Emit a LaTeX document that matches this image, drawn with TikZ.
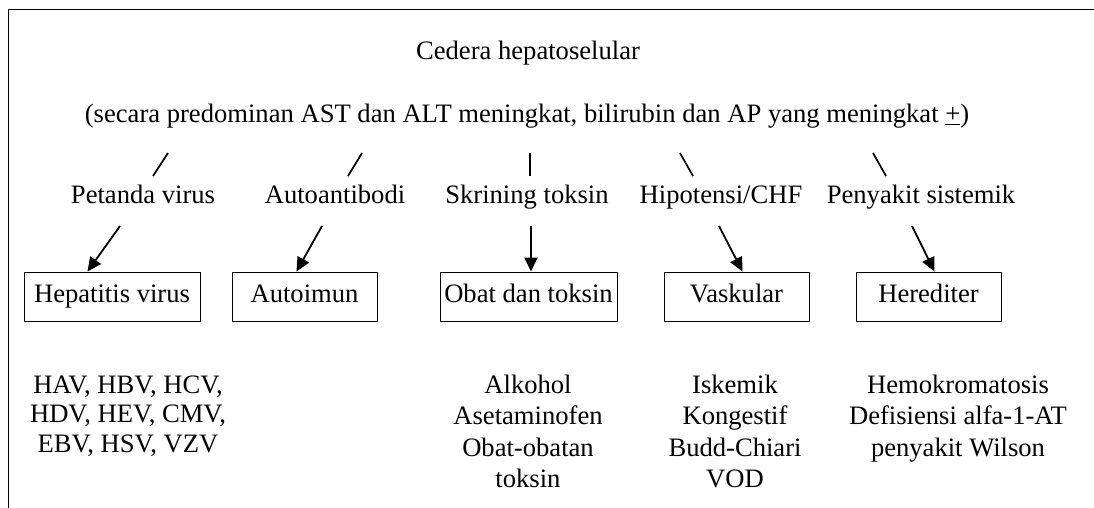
\documentclass[tikz,border=0pt]{standalone}
\usepackage{fontspec}
\setmainfont{Liberation Serif}
\usetikzlibrary{arrows.meta,calc}
\begin{document}
\begin{tikzpicture}[x=1pt,y=-1pt,
  txt/.style={inner sep=0pt,anchor=base,font=\fontsize{26.6}{31.5}\selectfont,align=center},
  boxnode/.style={draw,line width=1pt,inner sep=0pt,minimum height=49pt,
    text height=17pt,text depth=6pt,font=\fontsize{26.6}{31.5}\selectfont},
  arr/.style={line width=1.8pt,-{Triangle[length=14pt,width=13pt]}},
  tick/.style={line width=1.7pt},
  frame/.style={line width=1pt}]
\useasboundingbox (0,0) rectangle (1094,508);

% frame lines along the top and left
\draw[frame] (1094,9.5) -- (8.5,9.5) -- (8.5,508);

% heading
\node[txt] (title) at (528,60) {Cedera hepatoselular};
\node[txt] (sub) at (527,123) {(secara predominan AST dan ALT meningkat, bilirubin dan AP yang meningkat \underline{+})};

% tests
\node[txt] (pv) at (143,203) {Petanda virus};
\node[txt] (aa) at (335,203) {Autoantibodi};
\node[txt] (sk) at (527,203) {Skrining toksin};
\node[txt] (hc) at (721,203) {Hipotensi/CHF};
\node[txt] (ps) at (921,203) {Penyakit sistemik};

% short strokes under the heading
\coordinate (t1a) at (168,153); \coordinate (t1b) at (153,176);
\coordinate (t2a) at (362,153); \coordinate (t2b) at (348,176);
\coordinate (t3a) at (530,153); \coordinate (t3b) at (530,176);
\coordinate (t4a) at (680,153); \coordinate (t4b) at (693,176);
\coordinate (t5a) at (873,153); \coordinate (t5b) at (886,176);
\foreach \i in {1,...,5} \draw[tick] (t\i a) -- (t\i b);

% categories
\node[boxnode,minimum width=176pt] (hv) at (112,296.5) {Hepatitis virus};
\node[boxnode,minimum width=145pt] (ai) at (304.5,296.5) {Autoimun};
\node[boxnode,minimum width=177pt] (ot) at (528.5,296.5) {Obat dan toksin};
\node[boxnode,minimum width=145pt] (va) at (736.5,296.5) {Vaskular};
\node[boxnode,minimum width=145pt] (he) at (928.5,296.5) {Herediter};

% arrows from tests to categories
\coordinate (a1) at (120,226);
\coordinate (a2) at (322,226);
\coordinate (a3) at (531,226);
\coordinate (a4) at (719,226);
\coordinate (a5) at (912,226);
\draw[arr] (a1) -- ($(hv.north west)+(64,0)$);
\draw[arr] (a2) -- ($(ai.north west)+(65,0)$);
\draw[arr] (a3) -- (ot.north -| a3);
\draw[arr] (a4) -- ($(va.north west)+(79,0)$);
\draw[arr] (a5) -- ($(he.north west)+(79,0)$);

% examples (anchored at the baseline of their last line)
\node[txt,font=\fontsize{26.6}{29.5}\selectfont] (ex1) at (128,452) {HAV, HBV, HCV,\\HDV, HEV, CMV,\\EBV, HSV, VZV};
\node[txt] (ex3) at (528,487.5) {Alkohol\\Asetaminofen\\Obat-obatan\\toksin};
\node[txt] (ex4) at (735,487.5) {Iskemik\\Kongestif\\Budd-Chiari\\VOD};
\node[txt] (ex5) at (958,456) {Hemokromatosis\\Defisiensi alfa-1-AT\\penyakit Wilson};
\end{tikzpicture}
\end{document}
